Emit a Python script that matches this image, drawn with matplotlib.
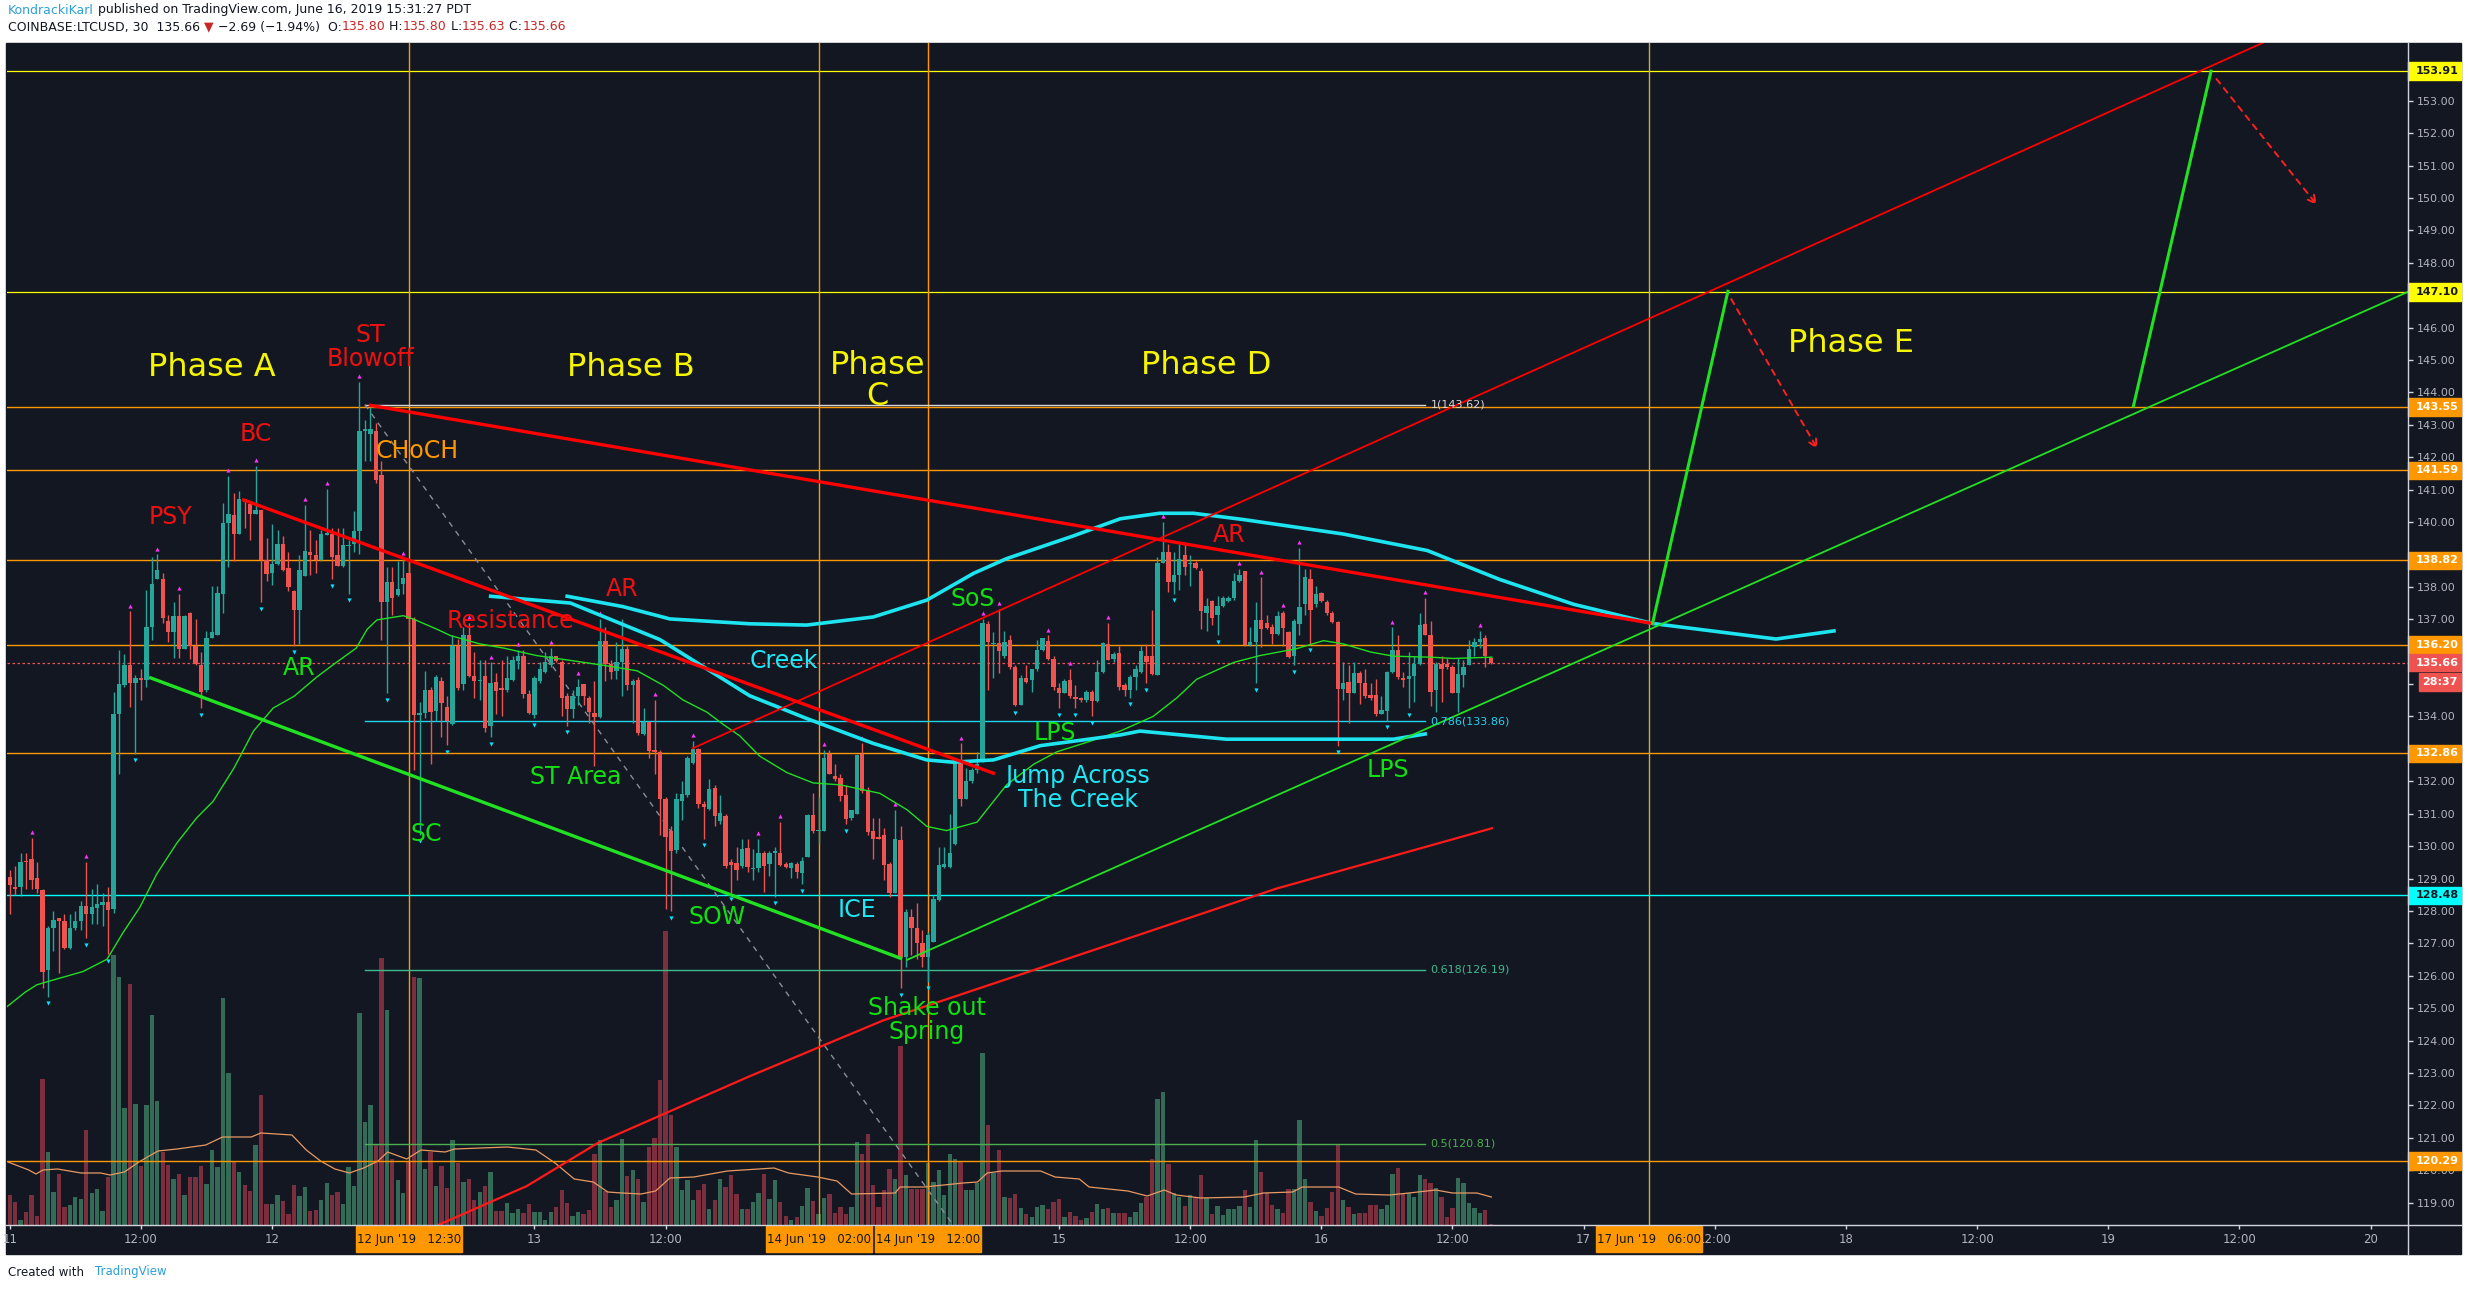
import numpy as np
import matplotlib
matplotlib.use("Agg")
import matplotlib.pyplot as plt
from matplotlib.patches import Rectangle
from matplotlib.lines import Line2D
from matplotlib.ticker import FuncFormatter

# COINBASE:LTCUSD 30 min candles, 11 Jun 00:00 .. 16 Jun 15:30 (x = hours since 11 Jun 00:00)
opens = [
    129.05, 128.75, 128.75, 129.55, 129.59, 129.01, 128.66, 126.19, 127.47, 127.77,
    127.69, 126.87, 127.47, 127.69, 128.15, 127.90, 128.08, 128.18, 128.28, 128.07,
    134.09, 134.96, 135.58, 135.02, 135.18, 135.12, 136.75, 138.23, 138.23, 136.95,
    136.60, 137.11, 136.09, 137.18, 136.18, 135.58, 134.81, 136.43, 136.52, 137.78,
    139.98, 140.21, 139.63, 140.70, 140.57, 140.26, 140.36, 138.83, 138.42, 138.70,
    139.31, 138.57, 137.87, 137.29, 138.34, 139.06, 138.99, 138.83, 139.60, 139.63,
    138.97, 138.65, 139.25, 139.31, 139.72, 142.80, 142.73, 142.80, 141.45, 137.52,
    138.14, 137.75, 138.10, 138.42, 137.01, 134.04, 134.12, 134.81, 134.17, 135.09,
    134.30, 133.78, 136.18, 135.00, 136.50, 135.26, 135.09, 135.26, 133.71, 135.05,
    134.88, 134.81, 135.12, 135.70, 135.86, 134.68, 134.04, 135.09, 135.37, 135.60,
    135.88, 135.67, 134.64, 134.22, 134.64, 134.99, 134.58, 134.12, 133.99, 136.34,
    135.63, 135.41, 135.67, 136.08, 134.96, 135.12, 133.45, 133.84, 132.98, 132.91,
    131.44, 130.48, 129.87, 131.38, 131.57, 132.56, 133.00, 131.31, 131.15, 131.79,
    130.76, 130.93, 129.52, 129.48, 129.39, 129.93, 129.30, 129.33, 129.80, 129.45,
    129.78, 129.80, 129.46, 129.33, 129.46, 129.18, 129.65, 130.96, 130.46, 130.48,
    132.85, 132.17, 132.11, 131.57, 130.87, 130.99, 132.85, 131.73, 130.46, 130.29,
    130.35, 129.46, 128.54, 130.20, 126.58, 127.82, 127.47, 127.02, 126.58, 127.05,
    128.33, 129.36, 129.36, 130.07, 132.59, 131.44, 132.02, 132.34, 132.59, 136.86,
    136.24, 136.28, 135.86, 136.37, 135.54, 134.35, 135.19, 135.12, 135.45, 136.05,
    136.32, 135.76, 134.88, 134.73, 135.12, 134.60, 134.58, 134.51, 134.77, 134.48,
    135.37, 136.24, 135.77, 135.95, 134.96, 134.83, 135.22, 135.37, 135.88, 135.88,
    135.28, 138.74, 139.08, 138.14, 138.35, 138.99, 138.70, 138.74, 138.48, 137.20,
    137.55, 137.14, 137.42, 137.55, 137.65, 138.19, 138.48, 136.21, 136.30, 136.98,
    136.88, 136.75, 136.56, 137.18, 136.60, 135.86, 136.86, 137.46, 138.23, 137.46,
    137.80, 137.52, 137.20, 136.91, 134.86, 135.05, 134.73, 135.35, 135.03, 134.67,
    134.67, 134.09, 134.17, 135.37, 136.05, 135.19, 135.15, 135.24, 135.63, 136.84,
    136.52, 134.83, 135.63, 135.63, 135.54, 134.73, 135.28, 135.60, 136.14, 136.29,
    136.43, 135.80,
]
highs = [
    129.27, 129.39, 129.78, 129.78, 130.25, 129.52, 128.69, 127.54, 127.99, 127.79,
    127.92, 127.92, 127.99, 128.31, 129.52, 128.69, 128.82, 128.56, 128.75, 134.77,
    136.05, 135.92, 137.24, 135.28, 135.47, 137.91, 138.93, 139.00, 138.42, 137.14,
    137.52, 137.78, 137.14, 137.23, 137.01, 135.99, 136.63, 138.03, 138.03, 140.59,
    141.43, 140.91, 140.95, 140.72, 140.66, 141.72, 140.36, 139.51, 139.95, 139.76,
    139.57, 139.06, 137.91, 138.99, 140.53, 139.76, 139.44, 139.76, 141.02, 139.83,
    139.83, 139.83, 139.44, 140.34, 144.33, 143.15, 143.54, 143.05, 141.87, 138.61,
    138.61, 138.80, 138.87, 138.80, 137.07, 134.45, 135.41, 134.90, 135.28, 135.22,
    134.64, 136.50, 136.40, 136.75, 136.88, 135.99, 135.73, 135.73, 135.67, 135.35,
    135.73, 135.86, 135.86, 136.05, 136.05, 134.83, 135.24, 135.67, 135.99, 136.11,
    135.88, 135.73, 134.71, 134.83, 135.15, 134.99, 134.64, 135.09, 137.01, 136.75,
    135.73, 136.31, 137.01, 136.18, 135.15, 135.22, 134.26, 133.87, 134.51, 132.98,
    131.51, 130.61, 131.63, 132.02, 132.79, 133.24, 133.02, 131.38, 132.08, 131.89,
    131.57, 130.99, 129.59, 129.97, 130.22, 130.22, 129.91, 130.22, 129.84, 129.84,
    129.97, 130.74, 129.52, 129.52, 129.52, 129.65, 130.99, 131.63, 131.51, 132.98,
    132.98, 132.53, 132.21, 131.89, 131.12, 132.85, 133.17, 131.82, 130.87, 130.87,
    130.55, 129.52, 131.12, 130.61, 128.05, 128.07, 128.24, 127.41, 127.35, 128.50,
    129.97, 129.97, 130.99, 132.72, 133.17, 132.40, 132.40, 132.91, 137.01, 136.95,
    136.60, 137.33, 136.63, 136.50, 135.58, 135.28, 135.58, 135.47, 136.37, 136.43,
    136.50, 135.86, 135.03, 135.15, 135.47, 134.96, 134.60, 134.83, 134.83, 135.73,
    136.31, 136.88, 135.99, 136.18, 135.03, 135.28, 135.60, 136.18, 136.24, 137.29,
    138.93, 140.00, 139.31, 139.06, 139.31, 139.31, 138.99, 138.80, 138.57, 137.65,
    137.59, 137.71, 137.71, 137.71, 138.42, 138.55, 138.48, 136.75, 137.52, 138.29,
    137.14, 136.86, 137.27, 137.27, 136.63, 137.01, 139.19, 138.55, 138.55, 138.03,
    137.84, 137.59, 137.27, 136.95, 135.67, 135.60, 135.67, 135.41, 135.47, 135.03,
    135.15, 134.64, 135.41, 136.75, 136.50, 135.37, 135.99, 135.86, 137.20, 137.65,
    136.95, 135.67, 135.86, 135.79, 135.60, 135.79, 135.73, 136.37, 136.43, 136.63,
    136.50, 135.80,
]
lows = [
    127.92, 128.50, 128.46, 128.69, 128.69, 128.56, 125.62, 125.36, 126.77, 126.07,
    126.83, 126.83, 127.41, 127.41, 127.15, 127.60, 127.60, 127.54, 126.67, 127.95,
    132.21, 134.90, 134.30, 132.85, 134.51, 134.90, 136.37, 138.23, 136.88, 136.31,
    135.79, 135.79, 136.08, 135.76, 135.60, 134.26, 134.77, 136.43, 136.50, 137.20,
    138.61, 138.80, 139.63, 139.83, 139.44, 140.26, 137.52, 138.19, 138.06, 138.67,
    138.48, 137.88, 136.18, 136.24, 138.34, 138.35, 138.42, 138.80, 139.60, 138.23,
    138.65, 138.61, 137.78, 139.06, 139.00, 141.87, 141.87, 141.21, 136.37, 134.71,
    137.14, 137.71, 137.78, 136.31, 132.34, 130.35, 133.94, 132.53, 133.87, 133.36,
    133.11, 133.75, 134.83, 134.83, 135.22, 134.58, 134.51, 133.53, 133.36, 134.07,
    134.00, 134.77, 135.09, 135.47, 134.58, 134.07, 133.94, 135.03, 135.35, 135.54,
    135.69, 134.00, 133.72, 133.94, 134.35, 134.35, 133.81, 132.47, 133.94, 135.09,
    135.15, 135.15, 134.64, 134.83, 133.81, 133.43, 133.43, 132.72, 132.21, 130.35,
    128.05, 127.99, 129.78, 130.80, 131.51, 132.53, 131.19, 130.22, 131.12, 130.61,
    130.67, 129.33, 128.56, 128.95, 129.33, 129.20, 128.95, 129.20, 128.59, 129.07,
    128.43, 129.39, 129.33, 129.01, 129.01, 128.82, 129.65, 130.42, 130.10, 130.48,
    132.21, 132.02, 131.38, 130.67, 130.80, 130.99, 131.63, 130.35, 129.59, 130.22,
    128.95, 128.43, 128.54, 125.62, 126.26, 126.64, 126.51, 126.26, 125.81, 127.05,
    128.31, 129.33, 129.33, 130.03, 131.25, 131.44, 131.95, 132.27, 132.59, 134.83,
    135.19, 135.35, 135.79, 135.47, 134.32, 134.35, 135.03, 134.77, 135.41, 136.01,
    135.73, 134.81, 134.26, 134.71, 134.58, 134.26, 134.45, 134.45, 134.00, 134.45,
    135.35, 135.73, 135.67, 134.83, 134.64, 134.58, 134.83, 135.35, 135.03, 135.28,
    135.27, 138.74, 137.84, 137.78, 137.91, 138.35, 138.03, 138.55, 136.69, 136.65,
    136.82, 136.50, 137.39, 137.52, 137.59, 138.16, 136.18, 136.18, 135.03, 136.14,
    136.69, 136.24, 136.50, 136.18, 135.79, 135.58, 136.50, 137.14, 136.24, 137.39,
    137.52, 137.14, 136.88, 133.10, 134.51, 133.81, 134.71, 134.39, 134.58, 134.51,
    134.00, 134.07, 133.87, 135.35, 135.15, 134.90, 134.26, 134.45, 135.60, 136.50,
    134.32, 134.13, 134.45, 135.47, 134.71, 134.13, 134.90, 135.58, 135.86, 136.11,
    135.54, 135.63,
]
closes = [
    128.79, 128.69, 129.52, 129.50, 128.97, 128.69, 126.13, 127.47, 127.73, 127.69,
    126.87, 127.47, 127.69, 128.14, 127.90, 128.11, 128.20, 128.28, 128.02, 134.09,
    134.99, 135.58, 135.02, 135.19, 135.12, 136.75, 138.10, 138.51, 137.04, 136.60,
    137.09, 136.09, 137.11, 136.18, 135.63, 134.76, 136.43, 136.60, 137.82, 139.98,
    140.24, 139.63, 140.70, 140.62, 140.25, 140.36, 138.83, 138.39, 138.70, 139.31,
    138.52, 138.01, 137.29, 138.52, 139.12, 138.99, 138.83, 139.62, 139.66, 138.93,
    138.65, 139.29, 139.28, 139.72, 142.80, 142.86, 142.86, 141.30, 137.52, 138.14,
    137.65, 137.93, 138.26, 137.01, 134.04, 134.12, 134.81, 134.13, 135.22, 134.42,
    133.87, 136.18, 134.87, 136.50, 135.24, 135.09, 135.12, 133.66, 135.03, 134.80,
    134.83, 135.19, 135.73, 135.86, 134.68, 134.10, 135.19, 135.45, 135.67, 135.88,
    135.70, 134.58, 134.22, 134.64, 134.90, 134.64, 134.13, 133.99, 136.34, 135.63,
    135.37, 135.67, 136.08, 134.96, 135.09, 133.49, 133.84, 132.94, 132.91, 131.44,
    130.29, 129.84, 131.44, 131.61, 132.72, 133.00, 131.31, 131.21, 131.76, 130.93,
    131.02, 129.39, 129.43, 129.27, 129.91, 129.36, 129.33, 129.80, 129.39, 129.78,
    129.84, 129.43, 129.36, 129.48, 129.20, 129.55, 130.96, 130.46, 130.51, 132.72,
    132.21, 132.08, 131.54, 130.84, 131.12, 132.81, 131.70, 130.44, 130.23, 130.23,
    129.43, 128.54, 130.23, 126.58, 127.98, 127.47, 127.02, 126.58, 127.26, 128.37,
    129.43, 129.46, 129.80, 132.66, 131.44, 132.02, 132.34, 132.53, 136.88, 136.31,
    136.27, 136.01, 136.31, 135.54, 134.35, 135.19, 135.06, 135.45, 136.05, 136.43,
    135.76, 134.90, 134.73, 135.09, 134.64, 134.55, 134.51, 134.77, 134.48, 135.38,
    136.28, 135.73, 135.92, 134.90, 134.83, 135.22, 135.45, 136.01, 135.67, 135.32,
    138.74, 139.08, 138.14, 138.35, 138.87, 138.61, 138.74, 138.57, 137.27, 137.42,
    137.04, 137.42, 137.67, 137.67, 138.19, 138.35, 136.21, 136.30, 136.98, 136.69,
    136.73, 136.56, 137.11, 136.73, 135.83, 136.95, 137.37, 138.29, 137.29, 137.78,
    137.55, 137.20, 136.91, 134.86, 135.03, 134.73, 135.35, 135.03, 134.64, 134.58,
    134.07, 134.19, 135.38, 136.05, 135.22, 135.12, 135.26, 135.63, 136.82, 136.52,
    134.77, 135.63, 135.47, 135.54, 134.73, 135.31, 135.54, 136.08, 136.31, 136.40,
    135.86, 135.66,
]
volume = [
    30, 23, 5, 13, 30, 9, 146, 73, 33, 51, 18, 20, 28, 26, 95, 32, 36, 14, 48, 270,
    248, 117, 241, 121, 59, 120, 210, 124, 73, 60, 46, 51, 30, 48, 48, 59, 41, 75, 58, 227,
    152, 64, 53, 40, 34, 80, 130, 21, 21, 30, 24, 11, 40, 29, 38, 14, 15, 25, 42, 30,
    33, 21, 58, 39, 212, 103, 120, 80, 267, 215, 66, 45, 32, 63, 248, 247, 56, 73, 39, 59,
    37, 85, 62, 43, 46, 25, 33, 39, 53, 14, 14, 22, 12, 16, 12, 21, 13, 13, 5, 13,
    18, 35, 22, 9, 13, 11, 15, 71, 85, 34, 18, 25, 86, 49, 55, 46, 23, 78, 87, 145,
    294, 110, 78, 35, 45, 25, 35, 41, 16, 25, 46, 38, 50, 31, 16, 16, 23, 32, 51, 26,
    45, 23, 9, 5, 8, 19, 37, 24, 11, 27, 31, 12, 18, 11, 18, 83, 71, 91, 40, 18,
    35, 56, 46, 179, 50, 36, 36, 36, 62, 43, 55, 30, 71, 66, 64, 35, 35, 42, 172, 100,
    52, 75, 28, 27, 31, 17, 11, 8, 18, 20, 16, 23, 26, 8, 13, 9, 5, 7, 13, 21,
    16, 17, 12, 12, 12, 8, 13, 22, 28, 66, 126, 133, 61, 32, 28, 19, 30, 27, 50, 27,
    11, 19, 10, 16, 16, 19, 35, 18, 85, 53, 32, 20, 16, 12, 36, 36, 105, 46, 23, 14,
    9, 17, 33, 80, 25, 18, 11, 12, 12, 20, 20, 16, 20, 51, 57, 32, 32, 28, 50, 46,
    42, 37, 28, 8, 17, 47, 42, 22, 17, 12, 15, 1,
]
# volume moving average (hours, value)
vol_ma_x = [-0.15, 1.74, 2.4, 3.05, 4.36, 6.55, 8.31, 9.18, 10.49, 11.81, 13.56, 15.31, 17.93,
            19.47, 22.1, 22.97, 25.82, 27.13, 28.44, 29.75, 31.07, 32.38, 33.7, 34.57, 36.32,
            37.63, 39.83, 40.7, 45.52, 48.14, 49.89, 51.65, 53.39, 54.71, 56.02, 57.76, 59.09,
            60.4, 62.59, 65.65, 69.93, 71.25, 73.92, 75.69, 77.02, 81.01, 81.45, 83.67, 87.22,
            88.55, 89.43, 90.77, 94.31, 95.64, 97.86, 98.75, 102.3, 104.07, 105.62, 106.73,
            108.95, 112.94, 114.71, 117.37, 118.26, 121.58, 123.14, 126.24, 128.02, 130.46,
            132.0, 134.23, 135.55]
vol_ma_y = [63, 55, 51, 55, 56, 52, 52, 50, 53, 63, 74, 76, 80, 88, 88, 92, 90, 75, 64, 56,
            52, 57, 64, 73, 66, 75, 73, 76, 78, 75, 62, 46, 43, 33, 32, 31, 34, 47, 48, 54,
            57, 52, 48, 44, 31, 32, 38, 38, 42, 43, 52, 54, 54, 48, 46, 38, 34, 29, 35, 30,
            27, 28, 32, 33, 38, 38, 31, 30, 32, 35, 32, 32, 28]

# moving averages on price (hours, price)
ema_x = [-0.28, 1.4, 2.47, 4.3, 6.7, 8.9, 10.4, 11.9, 13.45, 15.3, 17.1, 18.6, 20.5, 22.3, 24.1,
         26.0, 28.1, 29.6, 31.7, 32.7, 33.6, 36.0, 36.9, 39.1, 40.3, 43.0, 45.2, 48.2, 51.3,
         54.3, 57.4, 59.8, 61.6, 63.8, 65.3, 66.8, 68.6, 71.1, 73.5, 76.0, 79.6, 82.1, 83.9,
         85.7, 88.5, 90.0, 91.2, 93.7, 95.8, 98.8, 101.6, 104.6, 106.8, 108.6, 112.0, 114.4,
         117.7, 120.2, 122.0, 124.5, 126.6, 130.0, 132.1, 135.6]
ema_y = [125.04, 125.49, 125.72, 125.9, 126.13, 126.51, 127.35, 128.11, 129.14, 130.1, 130.87,
         131.38, 132.4, 133.55, 134.26, 134.62, 135.22, 135.6, 136.11, 136.69, 136.98, 137.11,
         137.01, 136.69, 136.5, 136.24, 136.11, 135.88, 135.73, 135.58, 135.41, 134.96, 134.51,
         134.13, 133.75, 133.4, 132.78, 132.27, 131.95, 131.89, 131.63, 131.12, 130.61, 130.48,
         130.74, 131.38, 131.89, 132.53, 132.91, 133.23, 133.55, 134.0, 134.58, 135.15, 135.67,
         135.88, 136.09, 136.34, 136.24, 135.99, 135.86, 135.83, 135.79, 135.83]
sma_x = [39.2, 47.3, 53.8, 67.7, 79.9, 101.0, 115.9, 128.1, 135.6]
sma_y = [118.31, 119.51, 120.84, 122.9, 124.62, 127.0, 128.69, 129.84, 130.55]

# drawn "creek" curves
creek_lo_x = [44.0, 51.3, 59.5, 67.7, 72.9, 79.0, 83.9, 86.3, 90.0, 94.3, 101.6, 103.4, 111.3, 126.6, 129.5]
creek_lo_y = [137.71, 137.5, 136.37, 134.64, 133.94, 133.17, 132.66, 132.59, 132.66, 133.1,
              133.43, 133.55, 133.3, 133.3, 133.46]
creek_hi_x = [51.0, 56.1, 60.4, 67.7, 72.9, 79.0, 83.9, 88.2, 91.2, 97.3, 101.6, 105.2, 108.3,
              112.8, 122.0, 129.7, 136.3, 143.1, 150.3, 161.6, 166.9]
creek_hi_y = [137.71, 137.39, 137.01, 136.86, 136.82, 137.07, 137.59, 138.42, 138.87, 139.57,
              140.1, 140.27, 140.27, 140.08, 139.63, 139.12, 138.23, 137.46, 136.87, 136.39, 136.64]

# pivot markers (candle index)
pivot_highs = [4, 14, 22, 27, 31, 40, 45, 54, 58, 64, 72, 84, 88, 93, 99, 104, 108, 118, 125, 137,
               141, 149, 156, 162, 174, 178, 181, 190, 194, 201, 211, 225, 229, 233, 236, 253, 259, 269]
pivot_lows = [7, 14, 18, 23, 35, 46, 52, 59, 62, 69, 75, 80, 88, 96, 102, 121, 127, 132, 140, 145,
              153, 163, 168, 184, 192, 195, 198, 205, 208, 213, 221, 228, 235, 238, 243, 252, 256]

orange_levels = [143.55, 141.59, 138.82, 136.20, 132.86, 120.29]
yellow_levels = [153.91, 147.10]
cyan_level = 128.48
last_price = 135.66
fib_levels = [1.0, 0.786, 0.618, 0.5]
fib_prices = [143.62, 133.86, 126.19, 120.81]
event_times = [36.5, 74, 84, 150]
event_labels = ["12 Jun '19   12:30", "14 Jun '19   02:00", "14 Jun '19   12:00", "17 Jun '19   06:00"]
xtick_hours = [0, 12, 24, 48, 60, 96, 108, 120, 132, 144, 156, 168, 180, 192, 204, 216]
xtick_labels = ["11", "12:00", "12", "13", "12:00", "15", "12:00", "16", "12:00", "17", "12:00",
                "18", "12:00", "19", "12:00", "20"]
ytick_prices = np.arange(119, 154)
hidden_yticks = [133, 135, 136, 139, 147]   # covered by the price tags

BG = '#131722'
GREEN, RED = '#26a69a', '#ef5350'
W, H = 2468, 1290
PL, PR, PT, PB = 7, 2408, 43, 1225

plt.rcParams['font.family'] = ['DejaVu Sans']
fig = plt.figure(figsize=(W / 100, H / 100), dpi=100)
fig.patch.set_facecolor('white')
fig.add_artist(Rectangle((6 / W, 1 - 1254 / H), 2455 / W, 1211 / H,
                         transform=fig.transFigure, color=BG, zorder=0))
rect = [PL / W, 1 - PB / H, (PR - PL) / W, (PB - PT) / H]
axv = fig.add_axes(rect, zorder=1)
ax = fig.add_axes(rect, zorder=2)
xlim = (-0.25, 219.42)
ylim = (118.31, 154.78)

# volume pane
t = np.arange(len(closes)) * 0.5
o, h, l, c = map(np.array, (opens, highs, lows, closes))
up = c >= o
axv.set_facecolor(BG)
axv.bar(t, volume, width=0.4, color=np.where(up, '#336b57', '#7b2f3e'), zorder=1)
axv.plot(vol_ma_x, vol_ma_y, color='#e89a62', lw=0.9, zorder=2)
axv.set_xlim(*xlim)
axv.set_ylim(0, PB - PT)
axv.set_xticks([])
axv.set_yticks([])
for s in axv.spines.values():
    s.set_visible(False)

ax.patch.set_alpha(0)
ax.set_xlim(*xlim)
ax.set_ylim(*ylim)
for s in ax.spines.values():
    s.set_visible(False)

# horizontal levels and vertical event lines
for p in orange_levels:
    ax.axhline(p, color='#ff9800', lw=1, zorder=1)
for p in yellow_levels:
    ax.axhline(p, color='#ffff00', lw=0.9, zorder=1)
ax.axhline(cyan_level, color='#00ffff', lw=1, zorder=1)
ax.axhline(last_price, color=RED, lw=0.9, ls=(0, (2, 2)), zorder=1)
for tt, col in zip(event_times, ['#ff9800', '#ff9800', '#ff9800', '#c8b040']):
    ax.axvline(tt, color=col, lw=1, zorder=1)

# fib retracement
fib_cols = ['#d8d8d8', '#22d3ee', '#3dba8c', '#4caf50']
for lv, p, col in zip(fib_levels, fib_prices, fib_cols):
    ax.plot([32.5, 129.5], [p, p], color=col, lw=1, zorder=1.5)
    ax.text(130.0, p, f"{lv:g}({p:.2f})", color=col, fontsize=8, va='center', ha='left', zorder=6)
ax.plot([32.5, 129.5], [143.62, 98.0], color='#8a8d96', lw=1, ls=(0, (4, 4)), zorder=1.5)

# candles
cols = np.where(up, GREEN, RED)
ax.vlines(t, l, h, colors=cols, lw=1, zorder=3)
body = np.maximum(np.abs(c - o), 0.04)
ax.bar(t, body, bottom=np.minimum(o, c), width=0.4, color=cols, zorder=3.5)
ax.scatter(t[pivot_highs], h[pivot_highs] + 0.18, marker='^', s=9, color='#ff33ff', lw=0, zorder=4)
ax.scatter(t[pivot_lows], l[pivot_lows] - 0.2, marker='v', s=9, color='#00e5ff', lw=0, zorder=4)

# moving averages
ax.plot(ema_x, ema_y, color='#22dd22', lw=1.0, zorder=4)
ax.plot(sma_x, sma_y, color='#ff1a1a', lw=1.6, zorder=4)

# drawings
ax.plot(creek_lo_x, creek_lo_y, color='#1ee4f0', lw=2.6, zorder=5, solid_joinstyle='round')
ax.plot(creek_hi_x, creek_hi_y, color='#1ee4f0', lw=2.6, zorder=5, solid_joinstyle='round')
ax.plot([33.0, 150.3], [143.6, 136.87], color='#ff0000', lw=2.4, zorder=5)
ax.plot([21.4, 90.0], [140.68, 132.25], color='#ff0000', lw=2.4, zorder=5)
ax.plot([62.5, 206.1], [133.02, 154.78], color='#ff0000', lw=1.3, zorder=5)
ax.plot([12.9, 81.5], [135.19, 126.54], color='#22e022', lw=2.4, zorder=5)
ax.plot([82.1, 219.4], [126.49, 147.1], color='#22e022', lw=1.3, zorder=5)
ax.plot([150.3, 157.2], [136.87, 147.12], color='#22e022', lw=2.2, zorder=5)
ax.plot([194.3, 201.4], [143.58, 153.91], color='#22e022', lw=2.2, zorder=5)
for (x0, y0), (x1, y1) in [((157.5, 146.88), (165.4, 142.25)), ((201.9, 153.67), (211.1, 149.78))]:
    ax.annotate('', xy=(x1, y1), xytext=(x0, y0), zorder=5,
                arrowprops=dict(arrowstyle='->', color='#ff2020', lw=1.4, ls=(0, (3, 3)),
                                shrinkA=0, shrinkB=0, mutation_scale=14))


def label(x, y, s, color, size=17):
    ax.text(x, y, s, color=color, fontsize=size, ha='center', va='center',
            linespacing=1.0, zorder=12)


YEL, LRED, LGRN, LCYN = '#f5f500', '#ee1111', '#11e011', '#1ee8f5'
label(18.5, 144.78, 'Phase A', YEL, 23)
label(56.8, 144.78, 'Phase B', YEL, 23)
label(79.4, 144.35, 'Phase\nC', YEL, 23)
label(109.5, 144.83, 'Phase D', YEL, 23)
label(168.5, 145.51, 'Phase E', YEL, 23)
label(33.0, 145.40, 'ST\nBlowoff', LRED)
label(22.5, 142.72, 'BC', LRED)
label(14.7, 140.16, 'PSY', LRED)
label(37.3, 142.19, 'CHoCH', '#ff9800')
label(26.5, 135.49, 'AR', LGRN)
label(45.8, 136.94, 'Resistance', LRED)
label(56.0, 137.93, 'AR', LRED)
label(38.1, 130.38, 'SC', LGRN)
label(51.8, 132.14, 'ST Area', LGRN)
label(64.7, 127.82, 'SOW', LGRN)
label(70.8, 135.72, 'Creek', LCYN)
label(77.5, 128.03, 'ICE', LCYN)
label(83.9, 124.63, 'Shake out\nSpring', LGRN)
label(88.1, 137.62, 'SoS', LGRN)
label(95.6, 133.49, 'LPS', LGRN)
label(97.7, 131.79, 'Jump Across\nThe Creek', LCYN)
label(111.6, 139.60, 'AR', LRED)
label(126.1, 132.35, 'LPS', LGRN)

# price axis
ax.yaxis.tick_right()
ax.set_yticks(ytick_prices)
ax.yaxis.set_major_formatter(FuncFormatter(
    lambda v, pos: '' if round(v) in hidden_yticks else f"{v:.2f}"))
ax.tick_params(axis='y', colors='#d1d4dc', labelcolor='#b2b5be', length=3.5, width=1,
               pad=3, labelsize=8)
ax.set_xticks(xtick_hours)
ax.set_xticklabels(xtick_labels)
ax.tick_params(axis='x', colors='#d1d4dc', labelcolor='#b2b5be', length=3, width=1,
               pad=3, labelsize=8.5)

axw = PR - PL
ytr = ax.get_yaxis_transform()
tags = [(p, '#ffff00', '#131722') for p in yellow_levels]
tags += [(p, '#ff9800', 'white') for p in orange_levels]
tags += [(cyan_level, '#00ffff', '#131722'), (last_price, RED, 'white')]
for p, bg, fg in tags:
    ax.add_patch(Rectangle((1.0, p - 0.27), 53 / axw, 0.54, transform=ytr, color=bg,
                           clip_on=False, zorder=20))
    ax.text(1.0 + 8 / axw, p, f"{p:.2f}", transform=ytr, color=fg, fontsize=8,
            fontweight='bold', va='center', ha='left', zorder=21, clip_on=False)
ax.add_patch(Rectangle((1.0 + 11 / axw, 135.06 - 0.27), 42 / axw, 0.54, transform=ytr,
                       color=RED, clip_on=False, zorder=20))
ax.text(1.0 + 14 / axw, 135.06, '28:37', transform=ytr, color='white', fontsize=8,
        fontweight='bold', va='center', ha='left', zorder=21, clip_on=False)

# time axis event boxes
xtr = ax.get_xaxis_transform()
for tt, s in zip(event_times, event_labels):
    ax.add_patch(Rectangle((tt - 53 / 10.93, -27 / (PB - PT)), 106 / 10.93, 26 / (PB - PT),
                           transform=xtr, color='#ff9800', clip_on=False, zorder=20))
    ax.text(tt, -14 / (PB - PT), s, transform=xtr, color='#131722', fontsize=8.5,
            ha='center', va='center', zorder=21, clip_on=False)

# frame lines
fig.add_artist(Line2D([PR / W, PR / W], [1 - PT / H, 1 - 1254 / H], color='#d1d4dc', lw=1, zorder=5))
fig.add_artist(Line2D([6 / W, 2461 / W], [1 - PB / H, 1 - PB / H], color='#d1d4dc', lw=1, zorder=5))

# header / footer
rend = fig.canvas.get_renderer()


def run_text(x, y, parts, size=9):
    for s, col in parts:
        tx = fig.text(x / W, 1 - y / H, s, color=col, fontsize=size, va='center', ha='left')
        x += tx.get_window_extent(renderer=rend).width


DARK, DRED, BLUE = '#131722', '#c62828', '#2f9fd8'
run_text(8, 10, [('KondrackiKarl', BLUE),
                 (' published on TradingView.com, June 16, 2019 15:31:27 PDT', DARK)])
run_text(8, 27, [('COINBASE:LTCUSD, 30  135.66 ', DARK), ('▼', DRED),
                 (' −2.69 (−1.94%)  O:', DARK), ('135.80', DRED), (' H:', DARK), ('135.80', DRED),
                 (' L:', DARK), ('135.63', DRED), (' C:', DARK), ('135.66', DRED)])
run_text(8, 1272, [('Created with ', DARK), ('  ', DARK), ('TradingView', BLUE)], size=8.5)

fig.savefig('out.png', dpi=100, facecolor=fig.get_facecolor())
